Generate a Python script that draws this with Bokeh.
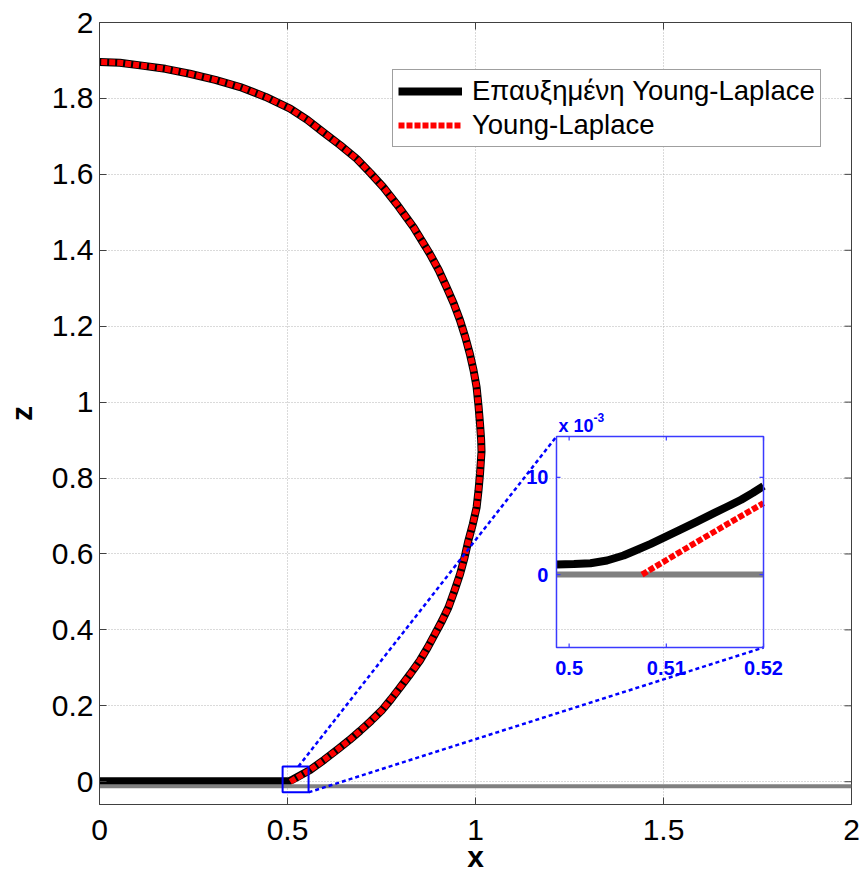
from bokeh.plotting import figure
from bokeh.models import Range1d, FixedTicker, Legend, LegendItem
from bokeh.core.properties import value
from bokeh.embed import file_html
from bokeh.resources import INLINE

# ---------------- data ----------------
# thin precursor film of the augmented Young-Laplace solution
film_x = [0.0, 0.25, 0.50]
film_z = [0.001, 0.001, 0.001]
# near-contact part of each solution
aug_contact_x = [0.5039, 0.5084, 0.5149, 0.5200]
aug_contact_z = [0.0015, 0.0032, 0.0063, 0.0091]
yl_contact_x = [0.5075, 0.5200]
yl_contact_z = [0.0, 0.0074]
# drop profile shared by both solutions (x, z)
profile_x = [0.560, 0.598, 0.636, 0.665, 0.693, 0.722, 0.750, 0.775, 0.799,
             0.826, 0.852, 0.873, 0.892, 0.911, 0.928, 0.944, 0.959, 0.971,
             0.981, 0.993, 1.003, 1.008, 1.012, 1.016, 1.015, 1.012, 1.008,
             1.003, 0.995, 0.985, 0.973, 0.959, 0.942, 0.923, 0.902, 0.879,
             0.835, 0.790, 0.755, 0.721, 0.684, 0.640, 0.595, 0.552, 0.507,
             0.442, 0.374, 0.308, 0.240, 0.175, 0.108, 0.054, 0.0]
profile_z = [0.031, 0.058, 0.087, 0.110, 0.134, 0.160, 0.187, 0.217, 0.248,
             0.283, 0.319, 0.354, 0.389, 0.424, 0.459, 0.503, 0.547, 0.591,
             0.635, 0.679, 0.723, 0.767, 0.811, 0.870, 0.900, 0.943, 0.990,
             1.039, 1.083, 1.127, 1.171, 1.215, 1.260, 1.303, 1.348, 1.390,
             1.461, 1.522, 1.566, 1.603, 1.641, 1.677, 1.711, 1.744, 1.773,
             1.804, 1.830, 1.849, 1.865, 1.878, 1.887, 1.894, 1.896]
# solid substrate
sub_x = [0.0, 2.0]
sub_z = [-0.012, -0.012]

# inset (z in units of 1e-3)
ins_aug_x = [0.4987, 0.5005, 0.5022, 0.5039, 0.5056, 0.5070, 0.5084, 0.5099,
             0.5114, 0.5131, 0.5149, 0.5163, 0.5177, 0.5189, 0.5200]
ins_aug_z = [1.03, 1.08, 1.17, 1.45, 1.96, 2.55, 3.16, 3.88,
             4.60, 5.43, 6.32, 7.00, 7.70, 8.40, 9.11]
ins_yl_x = [0.5075, 0.5138, 0.5200]
ins_yl_z = [0.0, 3.75, 7.35]
ins_sub_x = [0.4987, 0.5200]
ins_sub_z = [0.0, 0.0]

# ticks
x_ticks = [0, 0.5, 1, 1.5, 2]
x_tick_labels = ["0", "0.5", "1", "1.5", "2"]
y_ticks = [0, 0.2, 0.4, 0.6, 0.8, 1, 1.2, 1.4, 1.6, 1.8, 2]
y_tick_labels = ["0", "0.2", "0.4", "0.6", "0.8", "1", "1.2", "1.4", "1.6", "1.8", "2"]
ins_x_ticks = [0.5, 0.51, 0.52]
ins_x_tick_labels = ["0.5", "0.51", "0.52"]
ins_y_ticks = [0, 10]
ins_y_tick_labels = ["0", "10"]

# zoom window shown on the main axes and connector start points
zoom_x = [0.487, 0.556]
zoom_z = [-0.028, 0.040]
conn_from_x = [0.529, 0.556]
conn_from_z = [0.040, -0.028]

labels = ["Επαυξημένη Young-Laplace", "Young-Laplace"]

# ---------------- layout constants ----------------
XR = (0.0, 2.0)
YR = (-0.06, 2.0)
INS_X = (0.4987, 0.5200)      # inset data limits
INS_Z = (-7.5, 14.2)
INS_BOX = (1.2154, 1.7660, 0.3535, 0.9094)  # inset box in main coords: L, R, B, T
FRAME_W, FRAME_H = 752, 782
FONT = value("Liberation Sans")
AX = "#404040"

L, R, B, T = INS_BOX
sx = (INS_X[1] - INS_X[0]) / (R - L)
sz = (INS_Z[1] - INS_Z[0]) / (T - B)
ix_range = Range1d(INS_X[0] - (L - XR[0]) * sx, INS_X[1] + (XR[1] - R) * sx)
iz_range = Range1d(INS_Z[0] - (B - YR[0]) * sz, INS_Z[1] + (YR[1] - T) * sz)

p = figure(width=863, height=880, x_range=Range1d(*XR), y_range=Range1d(*YR),
           output_backend="svg", toolbar_location=None,
           min_border_left=99, min_border_right=12, min_border_top=22,
           min_border_bottom=76, background_fill_color="white",
           border_fill_color="white")
p.extra_x_ranges = {"ix": ix_range}
p.extra_y_ranges = {"iz": iz_range}
p.outline_line_color = AX

xa = p.xaxis[0]
ya = p.yaxis[0]
xa.ticker = FixedTicker(ticks=x_ticks)
xa.major_label_overrides = {t: s for t, s in zip(x_ticks, x_tick_labels)}
ya.ticker = FixedTicker(ticks=y_ticks)
ya.major_label_overrides = {t: s for t, s in zip(y_ticks, y_tick_labels)}
for ax in (xa, ya):
    ax.major_tick_in = 7
    ax.major_tick_out = 0
    ax.minor_tick_line_color = None
    ax.axis_line_color = AX
    ax.major_tick_line_color = AX
    ax.major_label_text_font = "Liberation Sans"
    ax.major_label_text_font_size = "30px"
    ax.major_label_text_color = "black"
    ax.axis_label_text_font = "Liberation Sans"
    ax.axis_label_text_font_size = "30px"
    ax.axis_label_text_font_style = "bold"
    ax.axis_label_text_color = "black"
xa.axis_label = "x"
ya.axis_label = "z"
xa.major_label_standoff = 15
ya.major_label_standoff = 6
xa.axis_label_standoff = -3
ya.axis_label_standoff = 11

p.grid.grid_line_color = "#b4b4b4"
p.grid.grid_line_dash = "1 2"
p.grid.grid_line_width = 1

# inward ticks on the top and right edges of the box
tpx_x = (XR[1] - XR[0]) / FRAME_W * 7
tpx_y = (YR[1] - YR[0]) / FRAME_H * 7
p.segment(x0=[XR[1]] * len(y_ticks), y0=y_ticks, x1=[XR[1] - tpx_x] * len(y_ticks),
          y1=y_ticks, line_color=AX, line_width=1)
p.segment(x0=x_ticks, y0=[YR[1]] * len(x_ticks), x1=x_ticks,
          y1=[YR[1] - tpx_y] * len(x_ticks), line_color=AX, line_width=1)

# ---------------- main curves ----------------
aug_x = film_x + aug_contact_x + profile_x
aug_z = film_z + aug_contact_z + profile_z
yl_x = yl_contact_x + profile_x
yl_z = yl_contact_z + profile_z

r_aug = p.line(aug_x, aug_z, line_color="black", line_width=8, line_join="round")
p.line(sub_x, sub_z, line_color="#808080", line_width=4)
r_yl = p.line(yl_x, yl_z, line_color="red", line_width=6, line_dash="6 2",
              line_cap="butt")

# zoom window and connectors
p.quad(left=[zoom_x[0]], right=[zoom_x[1]], bottom=[zoom_z[0]], top=[zoom_z[1]],
       fill_color=None, line_color="blue", line_width=2)
p.segment(x0=conn_from_x, y0=conn_from_z, x1=[L, R], y1=[T, B],
          line_color="blue", line_width=2.5, line_dash="4 3")

# ---------------- inset ----------------
kw = dict(x_range_name="ix", y_range_name="iz")
p.line(ins_aug_x, ins_aug_z, line_color="black", line_width=8, line_join="round", **kw)
p.line(ins_sub_x, ins_sub_z, line_color="#808080", line_width=6, **kw)
p.line(ins_yl_x, ins_yl_z, line_color="red", line_width=6, line_dash="6 2",
       line_cap="butt", **kw)
p.quad(left=[INS_X[0]], right=[INS_X[1]], bottom=[INS_Z[0]], top=[INS_Z[1]],
       fill_color=None, line_color="#3a3aff", line_width=1.5, **kw)

px_x = (INS_X[1] - INS_X[0]) / ((R - L) * FRAME_W / (XR[1] - XR[0]))
px_z = (INS_Z[1] - INS_Z[0]) / ((T - B) * FRAME_H / (YR[1] - YR[0]))
tk = 4
p.segment(x0=ins_x_ticks, y0=[INS_Z[0]] * 3, x1=ins_x_ticks,
          y1=[INS_Z[0] + tk * px_z] * 3, line_color="#3a3aff", line_width=1.2, **kw)
p.segment(x0=ins_x_ticks, y0=[INS_Z[1]] * 3, x1=ins_x_ticks,
          y1=[INS_Z[1] - tk * px_z] * 3, line_color="#3a3aff", line_width=1.2, **kw)
p.segment(x0=[INS_X[0]] * 2, y0=ins_y_ticks, x1=[INS_X[0] + tk * px_x] * 2,
          y1=ins_y_ticks, line_color="#3a3aff", line_width=1.2, **kw)
p.segment(x0=[INS_X[1]] * 2, y0=ins_y_ticks, x1=[INS_X[1] - tk * px_x] * 2,
          y1=ins_y_ticks, line_color="#3a3aff", line_width=1.2, **kw)

p.text(x=ins_x_ticks, y=[INS_Z[0]] * 3, text=ins_x_tick_labels, text_font=FONT,
       text_font_style="bold", text_font_size="20px", text_color="blue",
       text_align="center", text_baseline="top", y_offset=13, **kw)
p.text(x=[INS_X[0]] * 2, y=ins_y_ticks, text=ins_y_tick_labels, text_font=FONT,
       text_font_style="bold", text_font_size="20px", text_color="blue",
       text_align="right", text_baseline="middle", x_offset=-8, **kw)
p.text(x=[INS_X[0]], y=[INS_Z[1]], text=["x 10"], text_font=FONT,
       text_font_style="bold", text_font_size="18px", text_color="blue",
       text_align="left", text_baseline="alphabetic", x_offset=2, y_offset=-11, **kw)
p.text(x=[INS_X[0]], y=[INS_Z[1]], text=["-3"], text_font=FONT,
       text_font_style="bold", text_font_size="12px", text_color="blue",
       text_align="left", text_baseline="alphabetic", x_offset=37, y_offset=-19, **kw)

# ---------------- legend ----------------
legend = Legend(items=[LegendItem(label=labels[0], renderers=[r_aug]),
                       LegendItem(label=labels[1], renderers=[r_yl])],
                location=(293, 657), label_text_font="Liberation Sans",
                label_text_font_size="27.5px", label_text_color="black",
                glyph_width=64, glyph_height=28, label_height=28,
                label_standoff=10, padding=5, spacing=2, margin=0,
                border_line_color=AX, border_line_width=1,
                background_fill_color="white", background_fill_alpha=1)
p.add_layout(legend)

open("out.html", "w").write(file_html(p, INLINE))
